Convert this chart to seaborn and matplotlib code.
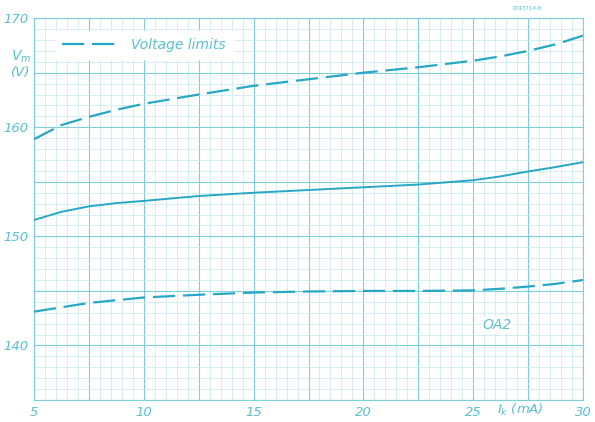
import numpy as np
import pandas as pd
import matplotlib.pyplot as plt
import seaborn as sns
from matplotlib.ticker import MultipleLocator, FuncFormatter

# Data
current_ma = [5, 6.25, 7.5, 8.75, 10, 12.5, 15, 17.5, 20, 22.5, 25, 26.25, 27.5, 28.75, 30]
upper_limit = [158.9, 160.2, 160.95, 161.6, 162.15, 163.0, 163.8, 164.4, 165.0,
               165.5, 166.1, 166.5, 167.0, 167.6, 168.4]
typical = [151.5, 152.25, 152.75, 153.05, 153.25, 153.7, 154.0, 154.25, 154.5,
           154.75, 155.15, 155.5, 155.95, 156.35, 156.8]
lower_limit = [143.1, 143.5, 143.9, 144.15, 144.4, 144.65, 144.85, 144.95, 145.0,
               145.0, 145.05, 145.2, 145.4, 145.65, 146.0]

x_labels = [5, 10, 15, 20, 25, 30]
y_labels = [140, 150, 160, 170]

CURVE = "#27a7c4"
GRID_MAJ = "#7ccfdb"
GRID_MIN = "#c2e8ef"
TEXT = "#55c0d3"

sns.set_style("white")
plt.rcParams['font.family'] = ['DejaVu Sans']

fig = plt.figure(figsize=(5.95, 4.22), dpi=100)
ax = fig.add_axes([0.057, 0.052, 0.923, 0.905])

df = pd.DataFrame({"I": current_ma, "upper": upper_limit,
                   "typ": typical, "lower": lower_limit})

sns.lineplot(data=df, x="I", y="upper", ax=ax, color=CURVE, lw=1.6,
             label="Voltage limits", zorder=5)
ax.lines[-1].set_dashes((10, 3.5))
sns.lineplot(data=df, x="I", y="typ", ax=ax, color=CURVE, lw=1.4, zorder=5)
sns.lineplot(data=df, x="I", y="lower", ax=ax, color=CURVE, lw=1.6, zorder=5)
ax.lines[-1].set_dashes((10, 3.5))

ax.set_xlim(5, 30)
ax.set_ylim(135, 170)

# graph-paper grid
ax.xaxis.set_major_locator(MultipleLocator(2.5))
ax.xaxis.set_minor_locator(MultipleLocator(0.5))
ax.yaxis.set_major_locator(MultipleLocator(5))
ax.yaxis.set_minor_locator(MultipleLocator(1))
ax.grid(which="major", color=GRID_MAJ, lw=0.8)
ax.grid(which="minor", color=GRID_MIN, lw=0.5)
ax.set_axisbelow(True)

ax.xaxis.set_major_formatter(FuncFormatter(
    lambda v, p: f"{v:g}" if v in x_labels else ""))
ax.yaxis.set_major_formatter(FuncFormatter(
    lambda v, p: f"{v:g}" if v in y_labels else ""))
ax.tick_params(which="both", length=0, colors=TEXT, labelsize=9.5, pad=4)
for lab in ax.get_xticklabels() + ax.get_yticklabels():
    lab.set_fontstyle("italic")
ax.set_xlabel("")
ax.set_ylabel("")
for s in ax.spines.values():
    s.set_color(GRID_MAJ)
    s.set_linewidth(0.8)

leg = ax.legend(loc="upper left", bbox_to_anchor=(0.025, 0.985),
                frameon=True, fancybox=False, handlelength=4.2,
                borderpad=0.5, fontsize=10)
leg.get_frame().set_facecolor("white")
leg.get_frame().set_edgecolor("white")
leg.get_frame().set_alpha(1)
for t in leg.get_texts():
    t.set_color(TEXT)
    t.set_fontstyle("italic")

ax.text(26.1, 141.85, "OA2", color=TEXT, fontsize=10, ha="center", va="center",
        fontstyle="italic", bbox=dict(fc="white", ec="none", pad=1))

fig.text(0.035, 0.865, "$V_m$", color=TEXT, fontsize=10, ha="center", va="center",
         fontstyle="italic")
fig.text(0.035, 0.828, "(V)", color=TEXT, fontsize=9.5, ha="center", va="center",
         fontstyle="italic")
fig.text(0.875, 0.028, "$I_k$ (mA)", color=TEXT, fontsize=9.5, ha="center",
         va="center", fontstyle="italic")
fig.text(0.885, 0.98, "7Z43714-8", color=TEXT, fontsize=4, ha="center", va="center")

fig.savefig("out.png", dpi=100, facecolor="white")
